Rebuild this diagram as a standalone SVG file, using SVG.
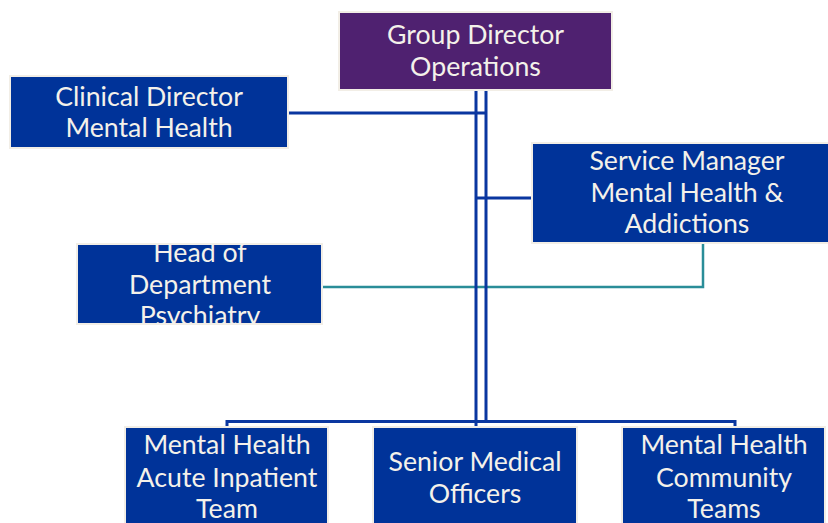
<svg xmlns="http://www.w3.org/2000/svg" width="828" height="523" viewBox="0 0 828 523">
<style>
.box{fill:#003399;stroke:#f2eee6;stroke-width:2}
.purple{fill:#4f2170;stroke:#f2eee6;stroke-width:2}
.t{font-family:Lato,"Open Sans","Liberation Sans",sans-serif;font-size:26.7px;fill:#f4f1ea;text-anchor:middle}
.c{fill:none;stroke:#0a37a0;stroke-width:3}
.teal{fill:none;stroke:#2a8d98;stroke-width:2.5}
</style>
<defs>
<clipPath id="clipHead"><rect x="77" y="244" width="245" height="80"/></clipPath>
</defs>
<rect width="828" height="523" fill="#ffffff"/>
<g id="connectors">
<polyline class="teal" points="703,243 703,287 322,287"/>
<line class="c" x1="476" y1="90" x2="476" y2="428"/>
<line class="c" x1="486" y1="90" x2="486" y2="422"/>
<polyline class="c" points="288,113 486,113"/>
<line class="c" x1="476" y1="198" x2="532" y2="198"/>
<polyline class="c" points="227,428 227,421.5 735,421.5 735,428"/>
</g>
<g id="group-director">
<rect class="purple" x="339" y="12" width="273" height="78"/>
<text class="t" x="475.5" y="44">Group Director</text>
<text class="t" x="475.5" y="76">Operations</text>
</g>
<g id="clinical-director">
<rect class="box" x="10" y="76" width="278" height="72"/>
<text class="t" x="149" y="106">Clinical Director</text>
<text class="t" x="149" y="137">Mental Health</text>
</g>
<g id="service-manager">
<rect class="box" x="532" y="143" width="300" height="100"/>
<text class="t" x="687" y="170">Service Manager</text>
<text class="t" x="687" y="202">Mental Health &amp;</text>
<text class="t" x="687" y="233">Addictions</text>
</g>
<g id="head-of-department">
<rect class="box" x="77" y="244" width="245" height="80"/>
<g clip-path="url(#clipHead)">
<text class="t" x="200" y="262">Head of</text>
<text class="t" x="200" y="294">Department</text>
<text class="t" x="200" y="325">Psychiatry</text>
</g>
</g>
<g id="acute-inpatient">
<rect class="box" x="125" y="427" width="203" height="100"/>
<text class="t" x="227" y="454">Mental Health</text>
<text class="t" x="227" y="487">Acute Inpatient</text>
<text class="t" x="227" y="518">Team</text>
</g>
<g id="senior-medical">
<rect class="box" x="373" y="427" width="204" height="100"/>
<text class="t" x="475" y="471">Senior Medical</text>
<text class="t" x="475" y="503">Officers</text>
</g>
<g id="community-teams">
<rect class="box" x="622" y="427" width="203" height="100"/>
<text class="t" x="724" y="454">Mental Health</text>
<text class="t" x="724" y="487">Community</text>
<text class="t" x="724" y="518">Teams</text>
</g>
</svg>
